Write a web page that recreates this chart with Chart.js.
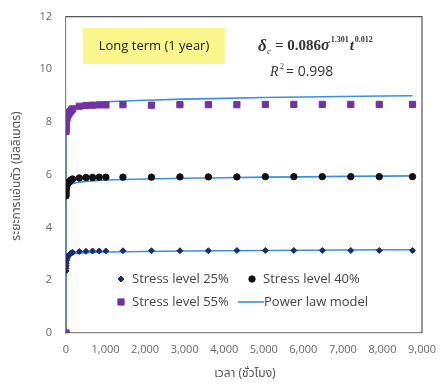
<!DOCTYPE html>
<html>
<head>
<meta charset="utf-8">
<script src="https://cdn.jsdelivr.net/npm/chart.js@4"></script>
<style>
  html, body { margin: 0; padding: 0; background: #fff; }
  #wrap { width: 442px; height: 388px; }
</style>
</head>
<body>
<div id="wrap"><canvas id="creepChart" width="442" height="388"></canvas></div>
<script>
// measured hours
const hours = [0, 1, 2, 4, 8, 16, 24, 48, 72, 96, 120, 144, 168, 336, 504, 672, 840, 1008, 1440, 2160, 2880, 3600, 4320, 5040, 5760, 6480, 7200, 7920, 8760];
const stress25 = [0, 2.35, 2.45, 2.55, 2.65, 2.75, 2.82, 2.9, 2.95, 2.99, 3.02, 3.04, 3.06, 3.09, 3.1, 3.11, 3.11, 3.11, 3.12, 3.12, 3.12, 3.12, 3.13, 3.13, 3.13, 3.13, 3.13, 3.13, 3.13];
const stress40 = [0, 5.2, 5.3, 5.4, 5.48, 5.55, 5.6, 5.67, 5.72, 5.76, 5.79, 5.82, 5.84, 5.88, 5.9, 5.9, 5.91, 5.91, 5.91, 5.91, 5.92, 5.92, 5.92, 5.93, 5.93, 5.93, 5.93, 5.93, 5.93];
const stress55 = [0, 7.65, 7.75, 7.85, 7.95, 8.05, 8.15, 8.25, 8.32, 8.38, 8.42, 8.46, 8.5, 8.6, 8.63, 8.64, 8.65, 8.65, 8.66, 8.64, 8.66, 8.66, 8.66, 8.67, 8.67, 8.67, 8.67, 8.67, 8.67];

// power law model curves
const modelHours = [0, 1, 10, 50, 100, 250, 500, 1000, 2000, 3000, 4000, 5000, 6000, 7000, 8000, 8760];
const model25 = [0, 2.83, 2.91, 2.96, 2.99, 3.02, 3.05, 3.07, 3.09, 3.11, 3.12, 3.13, 3.14, 3.15, 3.155, 3.16];
const model40 = [0, 5.34, 5.49, 5.59, 5.64, 5.7, 5.75, 5.8, 5.84, 5.87, 5.89, 5.91, 5.92, 5.94, 5.95, 5.96];
const model55 = [0, 8.07, 8.3, 8.45, 8.53, 8.61, 8.69, 8.77, 8.83, 8.87, 8.9, 8.93, 8.95, 8.97, 8.99, 9.0];

const xTicks = [0, 1000, 2000, 3000, 4000, 5000, 6000, 7000, 8000, 9000];
const yTicks = [0, 2, 4, 6, 8, 10, 12];

const labels = ['Stress level 25%', 'Stress level 40%', 'Stress level 55%', 'Power law model'];
const lineColor = '#3d8fdb';
const thaiFont = '"Noto Sans Thai", "Noto Sans", "DejaVu Sans", sans-serif';

function toPoints(xs, ys) {
    return xs.map(function (x, i) { return { x: x, y: ys[i] }; });
}

function modelSet(ys, label) {
    return {
        label: label,
        data: toPoints(modelHours, ys),
        showLine: true,
        borderColor: lineColor,
        borderWidth: 1.6,
        pointRadius: 0,
        tension: 0,
        order: 5
    };
}

// text boxes, equation, legend, axis titles
const extras = {
    id: 'extras',
    afterDraw: function (chart) {
        const ctx = chart.ctx;
        const a = chart.chartArea;
        ctx.save();

        // frame top / right
        ctx.strokeStyle = '#555';
        ctx.lineWidth = 1.2;
        ctx.beginPath();
        ctx.moveTo(a.left, a.top);
        ctx.lineTo(a.right, a.top);
        ctx.lineTo(a.right, a.bottom);
        ctx.stroke();

        // yellow label box
        ctx.fillStyle = '#fbf68c';
        ctx.fillRect(83, 28, 142, 36);
        ctx.fillStyle = '#222';
        ctx.font = '13px "Open Sans", sans-serif';
        ctx.textAlign = 'center';
        ctx.textBaseline = 'middle';
        ctx.fillText('Long term (1 year)', 154, 46);

        // equation
        ctx.fillStyle = '#333';
        ctx.textAlign = 'left';
        ctx.textBaseline = 'alphabetic';
        ctx.font = 'italic bold 17px "Liberation Serif", serif';
        ctx.fillText('δ', 258, 51);
        ctx.font = 'italic 9px "Liberation Serif", serif';
        ctx.fillText('c', 267, 54);
        ctx.font = 'bold 15px "Liberation Serif", serif';
        ctx.fillText('= 0.086', 275, 50);
        let x = 275 + ctx.measureText('= 0.086').width;
        ctx.font = 'italic bold 16px "Liberation Serif", serif';
        ctx.fillText('σ', x, 50);
        x += ctx.measureText('σ').width;
        ctx.font = 'bold 8px "Liberation Serif", serif';
        ctx.fillText('1.301', x + 1, 42);
        x += ctx.measureText('1.301').width + 2;
        ctx.font = 'italic bold 15px "Liberation Serif", serif';
        ctx.fillText('t', x, 50);
        x += ctx.measureText('t').width + 1;
        ctx.font = 'bold 8px "Liberation Serif", serif';
        ctx.fillText('0.012', x, 42);

        ctx.font = 'italic 14px "Liberation Serif", serif';
        ctx.fillText('R', 270, 76);
        ctx.font = '8px "Liberation Serif", serif';
        ctx.fillText('2', 280, 69);
        ctx.font = '14px "Open Sans", sans-serif';
        ctx.fillText('= 0.998', 286, 76);

        // legend
        const ds = chart.data.datasets;
        const slots = [[121, 279], [252, 279], [121, 302], [252, 302]];
        ctx.font = '13px "Open Sans", sans-serif';
        ctx.textBaseline = 'middle';
        for (let i = 0; i < 3; i++) {
            const d = ds[i];
            ctx.fillStyle = d.backgroundColor;
            ctx.strokeStyle = d.borderColor;
            ctx.lineWidth = 1;
            Chart.helpers.drawPoint(ctx, {
                pointStyle: d.pointStyle,
                radius: d.pointRadius,
                borderWidth: 1
            }, slots[i][0], slots[i][1]);
            ctx.fillStyle = '#444';
            ctx.fillText(labels[i], slots[i][0] + 11, slots[i][1]);
        }
        ctx.strokeStyle = lineColor;
        ctx.lineWidth = 1.6;
        ctx.beginPath();
        ctx.moveTo(238, 302);
        ctx.lineTo(264, 302);
        ctx.stroke();
        ctx.fillStyle = '#444';
        ctx.fillText(labels[3], 264, 302);

        // axis titles
        ctx.fillStyle = '#555';
        ctx.font = '12px ' + thaiFont;
        ctx.textAlign = 'center';
        ctx.fillText('เวลา (ชั่วโมง)', 245, 375);
        ctx.translate(18, 176);
        ctx.rotate(-Math.PI / 2);
        ctx.fillText('ระยะการแอ่นตัว (มิลลิเมตร)', 0, 0);
        ctx.restore();
    }
};

const ctx = document.getElementById('creepChart').getContext('2d');
const chart = new Chart(ctx, {
    type: 'scatter',
    data: {
        datasets: [
            {
                label: labels[0],
                data: toPoints(hours, stress25),
                pointStyle: 'rectRot',
                pointRadius: 3,
                backgroundColor: '#1c2a6e',
                borderColor: '#1c2a6e',
                borderWidth: 1,
                order: 3
            },
            {
                label: labels[1],
                data: toPoints(hours, stress40),
                pointStyle: 'circle',
                pointRadius: 3.2,
                backgroundColor: '#111',
                borderColor: '#111',
                borderWidth: 1,
                order: 2
            },
            {
                label: labels[2],
                data: toPoints(hours, stress55),
                pointStyle: 'rect',
                pointRadius: 4.4,
                backgroundColor: '#7232a6',
                borderColor: '#7232a6',
                borderWidth: 1,
                order: 1
            },
            modelSet(model25, 'model25'),
            modelSet(model40, 'model40'),
            modelSet(model55, 'model55')
        ]
    },
    options: {
        responsive: false,
        animation: false,
        layout: { padding: { top: 12, right: 18, left: 0, bottom: 0 } },
        plugins: {
            legend: { display: false },
            tooltip: { enabled: false }
        },
        scales: {
            x: {
                type: 'linear',
                min: 0,
                max: 9000,
                afterBuildTicks: function (scale) {
                    scale.ticks = xTicks.map(function (v) { return { value: v }; });
                },
                afterFit: function (scale) { scale.height = 55; },
                grid: { display: false, drawTicks: true, tickLength: 4, tickColor: '#777' },
                border: { color: '#888', width: 1.2 },
                ticks: {
                    color: '#666',
                    font: { size: 11, family: '"Open Sans", sans-serif' },
                    padding: 6,
                    maxRotation: 0,
                    callback: function (v) { return v.toLocaleString('en-US'); }
                }
            },
            y: {
                min: 0,
                max: 12,
                afterBuildTicks: function (scale) {
                    scale.ticks = yTicks.map(function (v) { return { value: v }; });
                },
                afterFit: function (scale) { scale.width = 66; },
                grid: { display: false, drawTicks: true, tickLength: 4, tickColor: '#777' },
                border: { color: '#888', width: 1.2 },
                ticks: {
                    color: '#666',
                    font: { size: 11, family: '"Open Sans", sans-serif' },
                    padding: 10
                }
            }
        }
    },
    plugins: [extras]
});
</script>
</body>
</html>
